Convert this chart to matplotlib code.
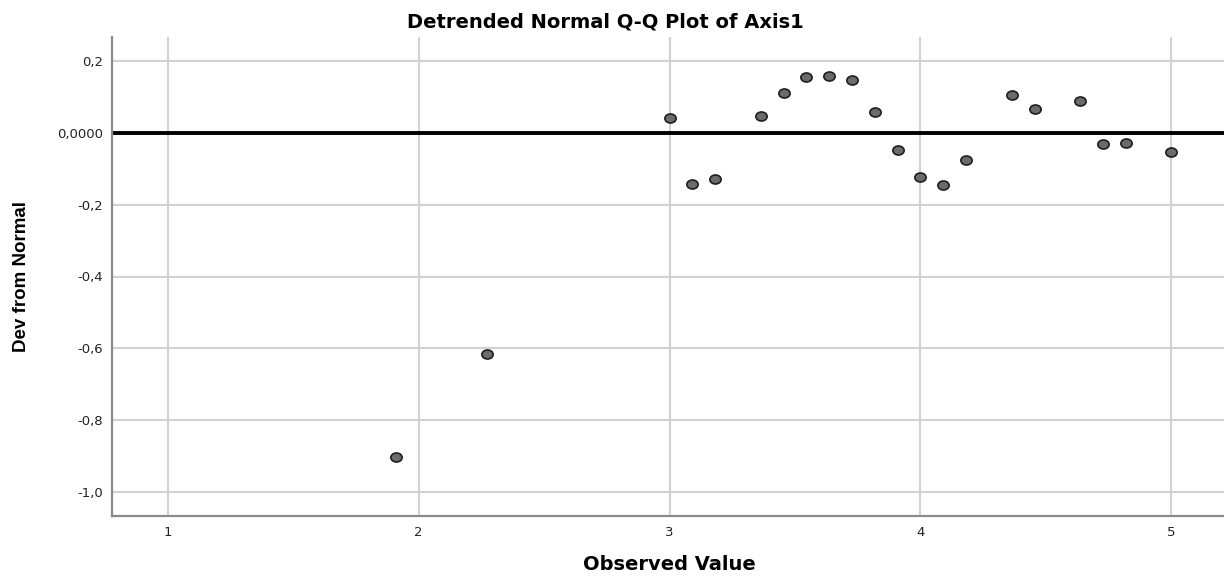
import matplotlib
matplotlib.use("Agg")
import matplotlib.pyplot as plt
from matplotlib.markers import MarkerStyle
from matplotlib.transforms import Affine2D
from matplotlib.ticker import FixedLocator, FuncFormatter

# Observed values and their deviation from the fitted normal line
observed = [1.909, 2.273, 3.000, 3.091, 3.182, 3.364, 3.455, 3.545, 3.636,
            3.727, 3.818, 3.909, 4.000, 4.091, 4.182, 4.364, 4.455, 4.636,
            4.727, 4.818, 5.000]
deviation = [-0.904, -0.617, 0.041, -0.143, -0.127, 0.047, 0.112, 0.156, 0.159,
             0.148, 0.060, -0.047, -0.122, -0.144, -0.075, 0.107, 0.068, 0.090,
             -0.030, -0.028, -0.052]

x_ticks = [1, 2, 3, 4, 5]
y_ticks = [0.2, 0.0, -0.2, -0.4, -0.6, -0.8, -1.0]

plt.rcParams['font.family'] = ['DejaVu Sans']

W, H = 1224, 576
fig = plt.figure(figsize=(W / 100, H / 100), dpi=100)
ax = fig.add_axes([112 / W, 1 - 516 / H, 1 - 112 / W, (516 - 37) / H])

ax.set_xlim(0.778, 5.21)
ax.set_ylim(-1.068, 0.268)

ax.xaxis.set_major_locator(FixedLocator(x_ticks))
ax.yaxis.set_major_locator(FixedLocator(y_ticks))


def y_fmt(v, pos):
    # zero gets four decimals, the rest one, with a comma as separator
    if abs(v) < 1e-9:
        return "0,0000"
    return f"{v:.1f}".replace(".", ",")


ax.yaxis.set_major_formatter(FuncFormatter(y_fmt))
ax.tick_params(axis='both', length=0, labelsize=9.5, colors='#222222')
ax.tick_params(axis='x', pad=7)
ax.tick_params(axis='y', pad=6.5)

ax.grid(True, color='#d2d2d2', linewidth=1.5)
ax.set_axisbelow(True)

for side in ('top', 'right'):
    ax.spines[side].set_visible(False)
for side in ('left', 'bottom'):
    ax.spines[side].set_color('#8a8a8a')
    ax.spines[side].set_linewidth(1.6)

ax.axhline(0, color='black', linewidth=2.8, zorder=2)

# slightly wide dots
dot = MarkerStyle('o', transform=Affine2D().scale(1.25, 1.0))
ax.plot(observed, deviation, linestyle='none', marker=dot, markersize=6.5,
        markerfacecolor='#6b6b6b', markeredgecolor='#1e1e1e',
        markeredgewidth=1.2, zorder=3)

fig.text(605 / W, 1 - 28 / H, "Detrended Normal Q-Q Plot of Axis1",
         ha='center', va='baseline', fontsize=14, fontweight='bold')
fig.text(669 / W, 1 - 570 / H, "Observed Value",
         ha='center', va='baseline', fontsize=14, fontweight='bold')
fig.text(21 / W, 1 - 276 / H, "Dev from Normal", rotation=90,
         ha='center', va='center', fontsize=13.5, fontweight='bold',
         family=['Liberation Sans', 'DejaVu Sans'])

fig.savefig("out.png", dpi=100, facecolor='white')
